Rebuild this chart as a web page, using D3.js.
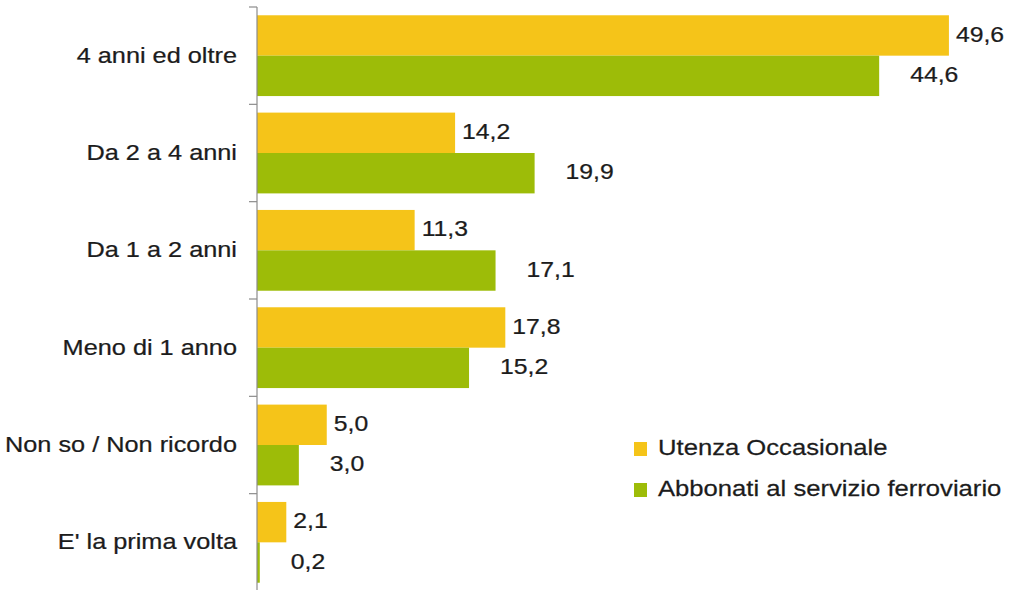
<!DOCTYPE html>
<html>
<head>
<meta charset="utf-8">
<script src="https://cdn.jsdelivr.net/npm/d3@7"></script>
<style>
  html, body { margin: 0; padding: 0; background: #fff; }
  svg { display: block; }
  text { font-family: "Liberation Sans", Arial, sans-serif; fill: #1c1c1c; stroke: #1c1c1c; stroke-width: 0.25; }
</style>
</head>
<body>
<svg id="chart" width="1011" height="590"></svg>
<script>
// Categories (top to bottom) and the two series, in percent
const categories = [
  "4 anni ed oltre",
  "Da 2 a 4 anni",
  "Da 1 a 2 anni",
  "Meno di 1 anno",
  "Non so / Non ricordo",
  "E' la prima volta"
];
const occasionali = [49.6, 14.2, 11.3, 17.8, 5.0, 2.1];
const abbonati    = [44.6, 19.9, 17.1, 15.2, 3.0, 0.2];
const seriesNames = ["Utenza Occasionale", "Abbonati al servizio ferroviario"];
const seriesColors = ["#f5c419", "#9dbc08"];

const fmt = v => d3.format(".1f")(v).replace(".", ",");
const FONT = 22.5;
// slightly wide lettering
const place = (px, py, s) => `translate(${px},${py}) scale(${s},1)`;

const svg = d3.select("#chart");

const x = d3.scaleLinear().domain([0, 50]).range([257, 954.5]);
const y = d3.scaleBand().domain(categories).range([7, 591]).paddingInner(0.17).paddingOuter(0.085);
const step = y.step();
const yBand = d3.scaleBand().domain([0, 1]).range([0, y.bandwidth()]);

const rows = categories.map((c, i) => ({ cat: c, vals: [occasionali[i], abbonati[i]] }));

// Bars
const groups = svg.append("g").selectAll("g").data(rows).join("g")
  .attr("transform", d => `translate(0,${y(d.cat)})`);

groups.selectAll("rect").data(d => d.vals).join("rect")
  .attr("x", x(0))
  .attr("y", (v, j) => yBand(j))
  .attr("width", v => x(v) - x(0))
  .attr("height", yBand.bandwidth())
  .attr("fill", (v, j) => seriesColors[j]);

// Value labels
const labelGap = [7, 31];
groups.selectAll("text.val").data(d => d.vals).join("text")
  .attr("class", "val")
  .attr("transform", (v, j) => place(x(v) + labelGap[j], yBand(j) + yBand.bandwidth() / 2 - 1.5, 1.1))
  .attr("dominant-baseline", "central")
  .attr("font-size", FONT)
  .text(v => fmt(v));

// Category axis: vertical line with ticks at band boundaries
const axisG = svg.append("g");
axisG.append("line")
  .attr("x1", x(0)).attr("x2", x(0))
  .attr("y1", y.range()[0]).attr("y2", y.range()[1])
  .attr("stroke", "#8c8c8c").attr("stroke-width", 1.2);
axisG.selectAll("line.tick").data(d3.range(categories.length + 1)).join("line")
  .attr("class", "tick")
  .attr("x1", x(0) - 8).attr("x2", x(0))
  .attr("y1", k => y.range()[0] + k * step)
  .attr("y2", k => y.range()[0] + k * step)
  .attr("stroke", "#8c8c8c").attr("stroke-width", 1.2);

axisG.selectAll("text.cat").data(categories).join("text")
  .attr("class", "cat")
  .attr("transform", d => place(237, y(d) + y.bandwidth() / 2 - 1, 1.125))
  .attr("text-anchor", "end")
  .attr("dominant-baseline", "central")
  .attr("font-size", FONT)
  .text(d => d);

// Legend
const legend = svg.append("g").attr("transform", "translate(634,448)");
const li = legend.selectAll("g").data(seriesNames).join("g")
  .attr("transform", (d, j) => `translate(0,${j * 41})`);
li.append("rect")
  .attr("x", 0).attr("y", -6).attr("width", 13).attr("height", 14)
  .attr("fill", (d, j) => seriesColors[j]);
li.append("text")
  .attr("transform", place(24, -1, 1.14))
  .attr("dominant-baseline", "central")
  .attr("font-size", FONT)
  .text(d => d);
</script>
</body>
</html>
